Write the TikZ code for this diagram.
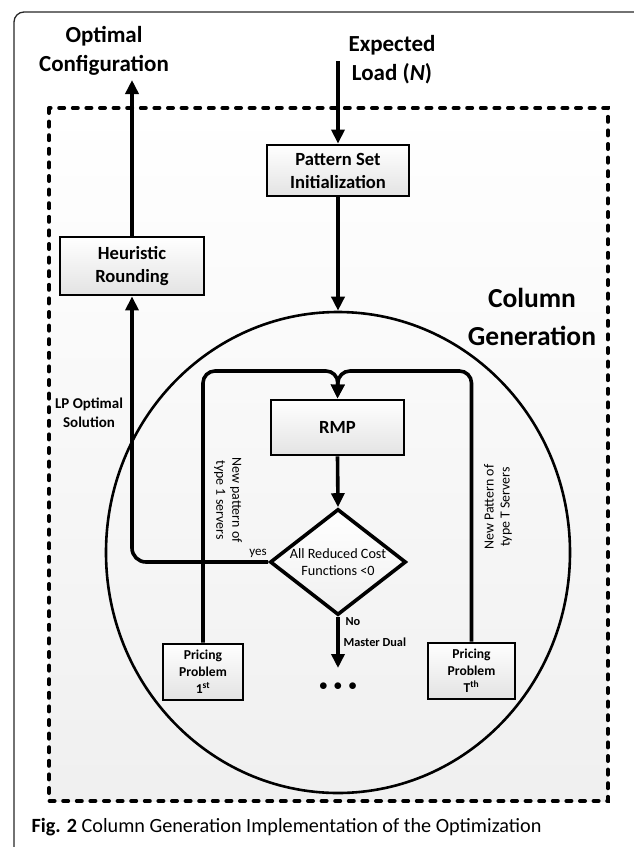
\documentclass[tikz,border=0pt]{standalone}
\usepackage{fontspec}
\setmainfont{Carlito}
\usetikzlibrary{positioning, arrows.meta, shapes.geometric}

\newcommand{\fsz}[2]{\fontsize{#1}{#2}\selectfont}

\begin{document}
\begin{tikzpicture}[
		x=1pt, y=-1pt,
		% Box styles
		box/.style={draw=black, line width=2.8pt, top color=white, bottom color=gray!22, align=center, inner sep=0pt, font=\bfseries\fsz{18.6}{23}},
		smallBox/.style={box, font=\bfseries\fsz{13.6}{17}},
		decision/.style={diamond, draw=black, line width=3.6pt, top color=white, bottom color=gray!12, aspect=1.28, inner sep=-3pt, minimum width=136pt, minimum height=106pt, align=center, font=\fsz{14.2}{17}},
		% Label styles
		bigLabel/.style={align=center, font=\bfseries\fsz{23}{29}},
		sideLabel/.style={align=center, font=\fsz{13.9}{16}},
		% Arrow styles
		flow/.style={-{Triangle[length=14pt, width=13pt]}, line width=3.6pt},
		region/.style={line width=4pt, line cap=round, dash pattern=on 5pt off 8.6pt}
		]
		
		\useasboundingbox (0,0) rectangle (634,847);
		
		% outer frame of the figure
		\draw[line width=1.3pt, black!85, rounded corners=10pt] (14,870) -- (14,12) -- (645,12) -- (645,60);
		
		% =========================================================
		% COLUMN GENERATION REGION
		% =========================================================
		\fill[top color=white, bottom color=gray!12] (49,108) rectangle (608,801);
		\draw[region] (49,108) rectangle (608,801);
		
		\node[ellipse, draw=black, line width=2.6pt, minimum width=464pt, minimum height=481pt, inner sep=0pt] (cg) at (338,552.5) {};
		\node[bigLabel, font=\bfseries\fsz{27.5}{38}] (cgTitle) at (532,317) {Column\\Generation};
		
		% =========================================================
		% BOXES
		% =========================================================
		\node[box, minimum width=142pt, minimum height=51pt] (pattern) at (338,170.5) {Pattern Set\\Initialization};
		\node[box, minimum width=144pt, minimum height=58pt] (heur) at (132,266) {Heuristic\\Rounding};
		\node[box, minimum width=133pt, minimum height=55pt] (rmp) at (337.5,427.5) {RMP};
		\node[decision] (crit) at (338,562) {All Reduced Cost\\Functions <0};
		\node[smallBox, minimum width=80pt, minimum height=56pt] (priceOne) at (203,672) {Pricing\\Problem\\1\textsuperscript{st}};
		\node[smallBox, minimum width=87pt, minimum height=56pt] (priceT) at (471.5,671) {Pricing\\Problem\\T\textsuperscript{th}};
		
		% =========================================================
		% LABELS
		% =========================================================
		\node[bigLabel] (optimal) at (104,51) {Optimal\\Configuration};
		\node[bigLabel] (load) at (392,60) {Expected\\Load (\textit{N})};
		\node[align=center, font=\bfseries\fsz{15}{19}] (lpLabel) at (89,413) {LP Optimal\\Solution};
		\node[font=\fsz{13}{15}] (yesLabel) at (258,553) {yes};
		\node[anchor=west, font=\bfseries\fsz{12.3}{15}] (noLabel) at (342,622) {No};
		\node[anchor=west, font=\bfseries\fsz{12.3}{15}] (dualLabel) at (340,642) {Master Dual};
		\node[sideLabel, rotate=-90] (newOne) at (228,500) {New pattern of\\type 1 servers};
		\node[sideLabel, rotate=90] (newT) at (498,507) {New Pattern of\\type T Servers};
		\node[font=\fsz{18}{18}] (dots) at (338,687) {$\bullet$\hspace{6pt}$\bullet$\hspace{6pt}$\bullet$};
		
		% free ends of the connectors
		\coordinate (inStart) at (338,61);
		\coordinate (outTip) at (132,80);
		\coordinate (merge) at (338,371);
		\coordinate (dualTip) at (338,668);
		
		% =========================================================
		% CONNECTORS
		% =========================================================
		\draw[flow] (inStart) -- (pattern.north);
		\draw[flow] (pattern.south) -- (cg.north);
		\draw[flow] (heur.north) -- (outTip);
		\draw[flow] (rmp.south) -- (crit.north);
		\draw[flow] (crit.south) -- (dualTip);
		\draw[flow, rounded corners=14pt] (crit.west) -| (heur.south);
		\draw[flow, rounded corners=12pt] (priceOne.north) |- (merge) -- (rmp.north);
		\draw[flow, rounded corners=12pt] (priceT.north) |- (merge) -- (rmp.north);
		
		% caption
		\node[anchor=west, font=\fsz{20.2}{22}] (caption) at (28,827) {\textbf{Fig. 2} Column Generation Implementation of the Optimization};
		
	\end{tikzpicture}
\end{document}
